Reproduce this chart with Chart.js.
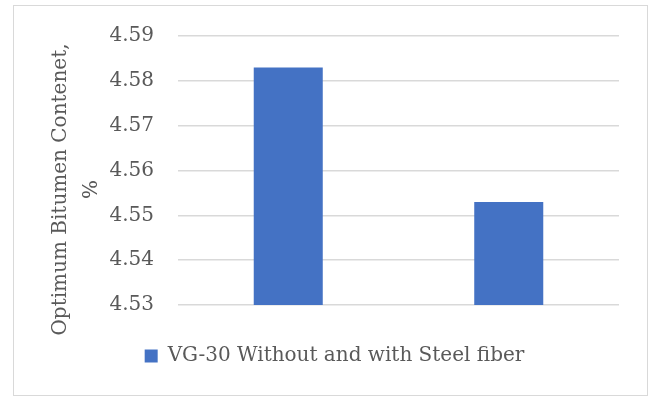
<!DOCTYPE html>
<html>
<head>
<meta charset="utf-8">
<script src="https://cdn.jsdelivr.net/npm/chart.js@4.4.1/dist/chart.umd.min.js"></script>
<style>
  html, body { margin: 0; padding: 0; background: #ffffff; }
  #wrap { position: relative; width: 651px; height: 396px; }
  #frame {
    position: absolute; left: 13px; top: 5px; width: 635px; height: 391px;
    box-sizing: border-box; border: 1px solid #d9d9d9; pointer-events: none;
  }
  canvas { position: absolute; left: 0; top: 0; }
</style>
</head>
<body>
<div id="wrap">
  <canvas id="chart" width="651" height="396"></canvas>
  <div id="frame"></div>
</div>
<script>
// Optimum bitumen content for the VG-30 mix, without and with steel fibre
const categories = ["Without Steel fiber", "With Steel fiber"];
const seriesName = "VG-30 Without and with Steel fiber";
const obcValues = [4.583, 4.553];
const yTicks = [4.53, 4.54, 4.55, 4.56, 4.57, 4.58, 4.59];
const yTitleLines = ["Optimum Bitumen Contenet,", "%"];

const TEXT = "#595959";
const GRID = "#d9d9d9";
const FONT = "'DejaVu Serif', serif";

// Draws the rotated two-line value-axis caption beside the tick labels
const axisCaption = {
  id: "axisCaption",
  afterDraw(chart) {
    const { ctx, chartArea } = chart;
    const cy = (chartArea.top + chartArea.bottom) / 2 + 19;
    ctx.save();
    ctx.fillStyle = TEXT;
    ctx.font = "20px " + FONT;
    ctx.textAlign = "center";
    ctx.textBaseline = "middle";
    const xs = [61, 92];
    yTitleLines.forEach((line, i) => {
      ctx.save();
      ctx.translate(xs[i], cy);
      ctx.rotate(-Math.PI / 2);
      ctx.fillText(line, 0, 0);
      ctx.restore();
    });
    ctx.restore();
  }
};

Chart.defaults.font.family = FONT;
Chart.defaults.font.size = 20;
Chart.defaults.color = TEXT;

new Chart(document.getElementById("chart"), {
  type: "bar",
  data: {
    labels: categories,
    datasets: [{
      label: seriesName,
      data: obcValues,
      backgroundColor: "#4472c4",
      borderWidth: 0,
      categoryPercentage: 1.0,
      barPercentage: 0.313
    }]
  },
  options: {
    responsive: false,
    animation: false,
    layout: { padding: { left: 50, right: 32, top: 35, bottom: 20 } },
    plugins: {
      legend: {
        position: "bottom",
        labels: {
          boxWidth: 13,
          boxHeight: 13,
          padding: 10,
          color: TEXT,
          font: { size: 20, family: FONT }
        }
      },
      tooltip: { enabled: false }
    },
    scales: {
      x: {
        ticks: { display: false },
        grid: { display: false },
        border: { display: false },
        afterFit(scale) { scale.height = 31; }
      },
      y: {
        min: yTicks[0],
        max: yTicks[yTicks.length - 1],
        afterBuildTicks(scale) { scale.ticks = yTicks.map(v => ({ value: v })); },
        ticks: {
          padding: 24,
          color: TEXT,
          font: { size: 20, family: FONT },
          callback: v => Number(v).toFixed(2)
        },
        grid: { color: GRID, lineWidth: 1.5, drawTicks: false },
        border: { display: false },
        afterFit(scale) { scale.width = 128; }
      }
    }
  },
  plugins: [axisCaption]
});
</script>
</body>
</html>
